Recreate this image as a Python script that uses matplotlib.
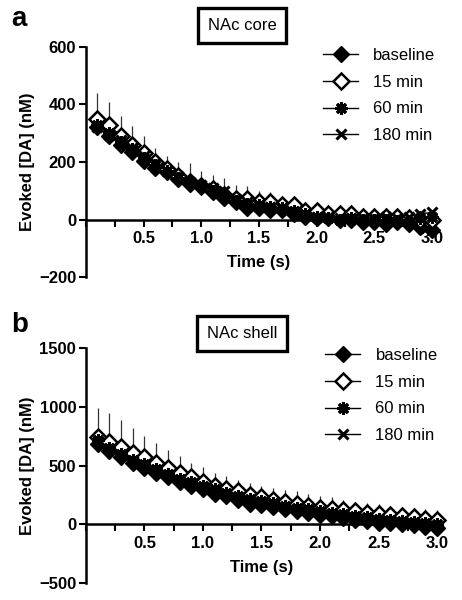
import numpy as np
import matplotlib
matplotlib.use('Agg')
import matplotlib.pyplot as plt
from matplotlib.ticker import MultipleLocator
from matplotlib.lines import Line2D

plt.rcParams['font.family'] = ['Liberation Sans', 'DejaVu Sans']

# time points (s)
time = [0.1, 0.2, 0.3, 0.4, 0.5, 0.6, 0.7, 0.8, 0.9, 1.0,
        1.1, 1.2, 1.3, 1.4, 1.5, 1.6, 1.7, 1.8, 1.9, 2.0,
        2.1, 2.2, 2.3, 2.4, 2.5, 2.6, 2.7, 2.8, 2.9, 3.0]

labels = ['baseline', '15 min', '60 min', '180 min']

# NAc core
core_baseline = [320, 290, 260, 235, 205, 180, 165, 140, 125, 115,
                 95, 75, 60, 40, 40, 35, 35, 20, 10, 5,
                 5, 0, 0, -10, -10, -15, -10, -15, -25, -35]
core_15 = [350, 330, 290, 260, 230, 200, 175, 150, 130, 115,
           105, 85, 70, 70, 60, 60, 50, 50, 30, 30,
           20, 20, 20, 10, 10, 10, 10, 5, 0, 0]
core_60 = [330, 300, 270, 245, 215, 190, 170, 145, 130, 115,
           100, 80, 65, 55, 50, 45, 40, 30, 20, 10,
           5, 0, 5, 0, 0, 0, -5, -10, 5, 10]
core_180 = [320, 295, 275, 250, 220, 195, 170, 150, 130, 120,
            110, 100, 70, 60, 50, 45, 40, 25, 20, 10,
            10, 5, 5, 5, 5, 10, 5, 10, 20, 25]
core_err = [90, 80, 70, 65, 60, 50, 45, 50, 65, 55,
            50, 60, 50, 45, 40, 35, 30, 20, 20, 20,
            20, 20, 20, 25, 25, 25, 25, 30, 30, 30]

# NAc shell
shell_baseline = [680, 620, 570, 520, 480, 440, 400, 360, 330, 300,
                  260, 240, 210, 175, 165, 150, 130, 110, 100, 80,
                  70, 55, 40, 30, 15, 10, 0, -5, -20, -30]
shell_15 = [740, 700, 660, 610, 570, 520, 480, 440, 400, 360,
            330, 300, 280, 250, 230, 210, 190, 170, 160, 140,
            130, 120, 110, 100, 90, 80, 70, 60, 50, 40]
shell_60 = [720, 650, 600, 550, 510, 470, 430, 390, 360, 330,
            300, 270, 240, 220, 200, 180, 160, 140, 130, 110,
            100, 90, 70, 60, 50, 40, 30, 20, 10, 0]
shell_180 = [700, 640, 590, 540, 500, 460, 420, 380, 350, 320,
             290, 260, 230, 210, 190, 170, 150, 130, 120, 100,
             90, 80, 60, 50, 40, 30, 20, 10, 0, -10]
shell_err = [250, 250, 230, 210, 180, 170, 150, 140, 120, 130,
             110, 110, 100, 100, 100, 100, 100, 110, 100, 100,
             100, 90, 80, 80, 80, 80, 80, 80, 80, 80]

styles = [dict(marker='D', mfc='black', mec='black', ms=8.5),
          dict(marker='D', mfc='white', mec='black', ms=8.5, mew=1.8),
          dict(marker=(8, 2, 0), mfc='black', mec='black', ms=9, mew=2.2),
          dict(marker='x', mfc='black', mec='black', ms=7.5, mew=2.2)]

fig = plt.figure(figsize=(4.62, 6.0), dpi=100)


def draw_panel(rect, series, err, ylim, ystep, title, letter, title_y, letter_y, leg_y, leg_x):
    ax = fig.add_axes(rect)
    # error bars (upper only) on 15 min series
    ax.errorbar(time, series[1], yerr=[np.zeros(len(err)), err], fmt='none',
                ecolor='#333333', elinewidth=0.9, capsize=0, zorder=1, clip_on=False)
    order = [3, 2, 0, 1]
    for i in order:
        ax.plot(time, series[i], color='black', lw=1.0, zorder=3 + i,
                clip_on=False, **styles[i])
    ax.set_xlim(0, 3.0)
    ax.set_ylim(*ylim)
    ax.spines['top'].set_visible(False)
    ax.spines['right'].set_visible(False)
    ax.spines['bottom'].set_position(('data', 0))
    ax.spines['left'].set_linewidth(1.8)
    ax.spines['bottom'].set_linewidth(1.8)
    ax.xaxis.set_minor_locator(MultipleLocator(0.25))
    ax.yaxis.set_major_locator(MultipleLocator(ystep))
    ax.set_xticks([0.5, 1.0, 1.5, 2.0, 2.5, 3.0])
    ax.set_xticklabels(['0.5', '1.0', '1.5', '2.0', '2.5', '3.0'])
    ax.tick_params(axis='x', which='both', direction='out', length=5, width=1.5, pad=3)
    ax.tick_params(axis='y', direction='out', length=5, width=1.5, pad=2)
    for lab in ax.get_xticklabels() + ax.get_yticklabels():
        lab.set_fontweight('bold')
        lab.set_fontsize(12)
    ax.set_ylabel('Evoked [DA] (nM)', fontsize=12, fontweight='bold', labelpad=3)
    ax.text(1.5, ylim[0] + (0 - ylim[0]) * 0.26,
            'Time (s)', ha='center', va='center', fontsize=12, fontweight='bold')
    handles = [Line2D([0], [0], color='black', lw=1.0, **styles[i]) for i in range(4)]
    fig.legend(handles, labels, loc='upper left', bbox_to_anchor=(leg_x, leg_y),
               frameon=False, fontsize=12, handlelength=2.1, handletextpad=0.9,
               labelspacing=0.7, borderaxespad=0)
    fig.text(0.524, title_y, title, ha='center', va='center', fontsize=12,
             bbox=dict(boxstyle='square,pad=0.6', facecolor='white', edgecolor='black', lw=2.4))
    fig.text(0.025, letter_y, letter, ha='left', va='center', fontsize=20, fontweight='bold')
    return ax


draw_panel([0.186, 0.538, 0.749, 0.384],
           [core_baseline, core_15, core_60, core_180], core_err,
           (-200, 600), 200, 'NAc core', 'a', 0.958, 0.968, 0.931, 0.685)
draw_panel([0.186, 0.028, 0.760, 0.392],
           [shell_baseline, shell_15, shell_60, shell_180], shell_err,
           (-500, 1500), 500, 'NAc shell', 'b', 0.445, 0.458, 0.431, 0.69)

fig.savefig('out.png', dpi=100)
